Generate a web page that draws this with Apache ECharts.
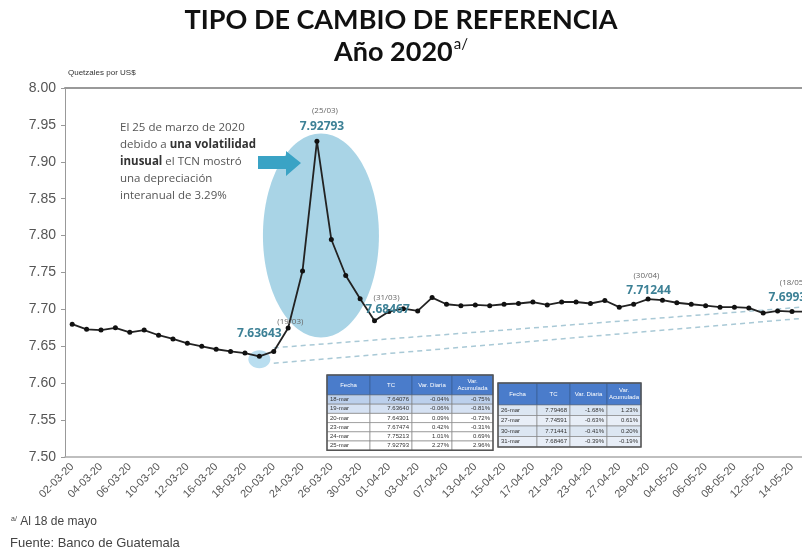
<!DOCTYPE html>
<html>
<head>
<meta charset="utf-8">
<script src="https://cdn.jsdelivr.net/npm/echarts@6/dist/echarts.min.js"></script>
<style>
  html, body { margin: 0; padding: 0; background: #fff; overflow: hidden; }
  /* el grafico original esta recortado a la derecha: lienzo mas ancho que la ventana */
  #chart { width: 840px; height: 551px; }
</style>
</head>
<body>
<div id="chart"></div>
<script>
// dias habiles del 02-03 al 18-05 de 2020
var fechas = [
    '02-03-20', '03-03-20', '04-03-20', '05-03-20', '06-03-20', '09-03-20', '10-03-20', '11-03-20',
    '12-03-20', '13-03-20', '16-03-20', '17-03-20', '18-03-20', '19-03-20', '20-03-20', '23-03-20',
    '24-03-20', '25-03-20', '26-03-20', '27-03-20', '30-03-20', '31-03-20',
    '01-04-20', '02-04-20', '03-04-20', '06-04-20', '07-04-20', '08-04-20', '13-04-20', '14-04-20',
    '15-04-20', '16-04-20', '17-04-20', '20-04-20', '21-04-20', '22-04-20', '23-04-20', '24-04-20',
    '27-04-20', '28-04-20', '29-04-20', '30-04-20',
    '04-05-20', '05-05-20', '06-05-20', '07-05-20', '08-05-20', '11-05-20', '12-05-20', '13-05-20',
    '14-05-20', '15-05-20', '18-05-20'
];
var tipoCambio = [
    7.680, 7.673, 7.672, 7.675, 7.669, 7.672, 7.665, 7.660,
    7.654, 7.650, 7.646, 7.643, 7.64076, 7.63640, 7.64301, 7.67474,
    7.75213, 7.92793, 7.79468, 7.74591, 7.71441, 7.68467,
    7.697, 7.701, 7.698, 7.716, 7.707, 7.705, 7.706, 7.705,
    7.707, 7.708, 7.710, 7.706, 7.710, 7.710, 7.708, 7.712,
    7.703, 7.707, 7.714, 7.71244,
    7.709, 7.707, 7.705, 7.703, 7.703, 7.702, 7.695, 7.698,
    7.697, 7.697, 7.69930
];
// lineas de tendencia punteadas [indice, valor]
var tendSup = [[14, 7.648], [52, 7.705]];
var tendInf = [[14, 7.627], [52, 7.690]];

// etiquetas de puntos: indice, fecha corta, valor
var etiquetas = [
    { i: 13, f: '(19/03)', v: '7.63643', df: [31, -35], dv: [0, -23] },
    { i: 17, f: '(25/03)', v: '7.92793', df: [8, -30], dv: [5, -15] },
    { i: 21, f: '(31/03)', v: '7.68467', df: [12, -23], dv: [13, -11] },
    { i: 41, f: '(30/04)', v: '7.71244', df: [-16, -25], dv: [-14, -10] },
    { i: 52, f: '(18/05)', v: '7.69930', df: [-28, -27], dv: [-30, -12] }
];

var encTabla = ['Fecha', 'TC', 'Var. Diaria', 'Var.\nAcumulada'];
var tabla1 = [
    ['18-mar', '7.64076', '-0.04%', '-0.75%'],
    ['19-mar', '7.63640', '-0.06%', '-0.81%'],
    ['20-mar', '7.64301', '0.09%', '-0.72%'],
    ['23-mar', '7.67474', '0.42%', '-0.31%'],
    ['24-mar', '7.75213', '1.01%', '0.69%'],
    ['25-mar', '7.92793', '2.27%', '2.96%']
];
var tabla2 = [
    ['26-mar', '7.79468', '-1.68%', '1.23%'],
    ['27-mar', '7.74591', '-0.63%', '0.61%'],
    ['30-mar', '7.71441', '-0.41%', '0.20%'],
    ['31-mar', '7.68467', '-0.39%', '-0.19%']
];

var chart = echarts.init(document.getElementById('chart'));

var option = {
    animation: false,
    grid: { left: 65, top: 88, width: 763, height: 369, containLabel: false },
    xAxis: [
        {
            type: 'category',
            data: fechas,
            boundaryGap: true,
            axisLine: { lineStyle: { color: '#aaa', width: 1.5 } },
            axisTick: { show: false },
            axisLabel: {
                // una de cada dos fechas; la ultima queda fuera del recorte
                interval: function (i) { return i % 2 === 0 && i < fechas.length - 1; },
                rotate: 45, margin: 8,
                color: '#555', fontFamily: 'Liberation Sans', fontSize: 11
            }
        },
        {
            type: 'category',
            data: fechas,
            position: 'top',
            boundaryGap: true,
            axisLine: { lineStyle: { color: '#999', width: 2 } },
            axisTick: { show: false },
            axisLabel: { show: false }
        }
    ],
    yAxis: {
        type: 'value',
        min: 7.5, max: 8.0, interval: 0.05,
        axisLine: { show: true, lineStyle: { color: '#999', width: 1 } },
        axisTick: { show: true, length: 4, lineStyle: { color: '#999' } },
        splitLine: { show: false },
        axisLabel: {
            color: '#555', fontFamily: 'Liberation Sans', fontSize: 14, margin: 9,
            formatter: function (v) { return v.toFixed(2); }
        }
    },
    series: [
        {
            type: 'line', data: tendSup, symbol: 'none', z: 3,
            lineStyle: { type: [5, 4], color: '#a9c9d6', width: 1.5 }
        },
        {
            type: 'line', data: tendInf, symbol: 'none', z: 3,
            lineStyle: { type: [5, 4], color: '#a9c9d6', width: 1.5 }
        },
        {
            type: 'line', data: tipoCambio, z: 5,
            symbol: 'circle', symbolSize: 5,
            lineStyle: { color: '#222', width: 1.8 },
            itemStyle: { color: '#111' }
        }
    ]
};
chart.setOption(option);

function px(i, v) {
    return chart.convertToPixel({ xAxisIndex: 0, yAxisIndex: 0 }, [fechas[i], v]);
}

function txt(x, y, s, size, color, bold, align) {
    return {
        type: 'text', x: x, y: y, z: 20,
        style: {
            text: s, fill: color, fontSize: size, fontFamily: 'Open Sans',
            fontWeight: bold ? 'bold' : 'normal',
            align: align || 'center', textAlign: align || 'center',
            verticalAlign: 'middle', textVerticalAlign: 'middle'
        }
    };
}

function tabla(x0, y0, anchos, altoEnc, altoFila, filas, fondos) {
    var hijos = [];
    var total = 0;
    anchos.forEach(function (a) { total += a; });
    var x = x0;
    encTabla.forEach(function (t, j) {
        hijos.push({ type: 'rect', z: 20, shape: { x: x, y: y0, width: anchos[j], height: altoEnc },
            style: { fill: '#4a7ccb', stroke: '#3b5f98', lineWidth: 0.8 } });
        hijos.push({ type: 'text', z: 21, x: x + anchos[j] / 2, y: y0 + altoEnc / 2,
            style: { text: t, fill: '#fff', fontSize: 6, fontFamily: 'Liberation Sans', lineHeight: 7,
                align: 'center', textAlign: 'center', verticalAlign: 'middle', textVerticalAlign: 'middle' } });
        x += anchos[j];
    });
    filas.forEach(function (fila, i) {
        var y = y0 + altoEnc + i * altoFila;
        x = x0;
        fila.forEach(function (t, j) {
            hijos.push({ type: 'rect', z: 20, shape: { x: x, y: y, width: anchos[j], height: altoFila },
                style: { fill: fondos[i], stroke: '#7a7a7a', lineWidth: 0.6 } });
            hijos.push({ type: 'text', z: 21, x: j === 0 ? x + 3 : x + anchos[j] - 3, y: y + altoFila / 2,
                style: { text: t, fill: '#333', fontSize: 6, fontFamily: 'Liberation Sans',
                    align: j === 0 ? 'left' : 'right', textAlign: j === 0 ? 'left' : 'right',
                    verticalAlign: 'middle', textVerticalAlign: 'middle' } });
            x += anchos[j];
        });
    });
    hijos.push({ type: 'rect', z: 22, shape: { x: x0, y: y0, width: total, height: altoEnc + filas.length * altoFila },
        style: { fill: 'none', stroke: '#555', lineWidth: 1.5 } });
    return { type: 'group', children: hijos };
}

var graficos = [];

// titulos, centrados en la ventana visible (802 px)
graficos.push(txt(401, 20, 'TIPO DE CAMBIO DE REFERENCIA', 27, '#111', true));
graficos[0].style.fontFamily = 'Lato';
graficos.push({
    type: 'text', x: 401, y: 52, z: 20,
    style: {
        text: '{a|Año 2020}{s|a/}',
        align: 'center', textAlign: 'center', verticalAlign: 'middle', textVerticalAlign: 'middle',
        rich: {
            a: { fontFamily: 'Lato', fontWeight: 'bold', fontSize: 27, fill: '#111', lineHeight: 30 },
            s: { fontFamily: 'Lato', fontSize: 15, fill: '#111', verticalAlign: 'top', lineHeight: 30, padding: [0, 0, 12, 1] }
        }
    }
});

// elipse de la volatilidad
var c = px(17, 7.80);
graficos.push({ type: 'ellipse', z: 1, shape: { cx: c[0] + 4, cy: c[1], rx: 58, ry: 102 },
    style: { fill: '#a9d4e6' } });
// minimo resaltado
var m = px(13, tipoCambio[13]);
graficos.push({ type: 'ellipse', z: 1, shape: { cx: m[0], cy: m[1] + 3, rx: 11, ry: 9 },
    style: { fill: '#b9def0' } });

// flecha
graficos.push({ type: 'polygon', z: 10,
    shape: { points: [[258, 156], [286, 156], [286, 151], [301, 163], [286, 176], [286, 169], [258, 169]] },
    style: { fill: '#3aa3c5' } });

// texto explicativo
graficos.push({
    type: 'text', x: 120, y: 119, z: 20,
    style: {
        text: '{n|El 25 de marzo de 2020}\n{n|debido a }{b|una volatilidad}\n{b|inusual}{n| el TCN mostró}\n{n|una depreciación}\n{n|interanual de 3.29%}',
        rich: {
            n: { fontFamily: 'Open Sans', fontSize: 11.5, fill: '#555', lineHeight: 17 },
            b: { fontFamily: 'Open Sans', fontSize: 11.5, fontWeight: 'bold', fill: '#333', lineHeight: 17 }
        }
    }
});

etiquetas.forEach(function (e) {
    var p = px(e.i, tipoCambio[e.i]);
    graficos.push(txt(p[0] + e.df[0], p[1] + e.df[1], e.f, 8, '#666', false));
    graficos.push(txt(p[0] + e.dv[0], p[1] + e.dv[1], e.v, 12, '#3d8196', true));
});

graficos.push(tabla(327, 375, [43, 42, 40, 41], 20, 9.2, tabla1,
    ['#bcd0ec', '#d6e2f3', '#fff', '#fff', '#fff', '#fff']));
graficos.push(tabla(498, 383, [39, 33, 37, 34], 22, 10.5, tabla2,
    ['#dce6f2', '#e8eef7', '#dce6f2', '#e8eef7']));

graficos.push(txt(68, 73, 'Quetzales por US$', 8, '#333', false, 'left'));
graficos[graficos.length - 1].style.fontFamily = 'Liberation Sans';

graficos.push({
    type: 'text', x: 11, y: 522, z: 20,
    style: {
        text: '{s|a/} {n|Al 18 de mayo}',
        verticalAlign: 'middle', textVerticalAlign: 'middle',
        rich: {
            s: { fontFamily: 'Liberation Sans', fontSize: 7, fill: '#444', verticalAlign: 'top' },
            n: { fontFamily: 'Liberation Sans', fontSize: 12, fill: '#444' }
        }
    }
});
graficos.push({
    type: 'text', x: 10, y: 543, z: 20,
    style: { text: 'Fuente: Banco de Guatemala', fontFamily: 'Liberation Sans', fontSize: 13, fill: '#444',
        verticalAlign: 'middle', textVerticalAlign: 'middle' }
});

chart.setOption({ graphic: graficos });
</script>
</body>
</html>
